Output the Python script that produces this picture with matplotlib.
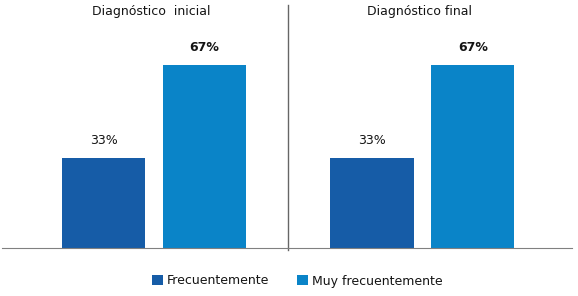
import numpy as np
import matplotlib.pyplot as plt

grupos = ['Diagnóstico  inicial', 'Diagnóstico final']
series = ['Frecuentemente', 'Muy frecuentemente']
frecuente = [33, 33]
muy_frecuente = [67, 67]
etiquetas_f = ['33%', '33%']
etiquetas_m = ['67%', '67%']

c_oscuro = '#165ca7'
c_claro = '#0a84c8'
c_texto = '#141414'

fig = plt.figure(figsize=(5.78, 2.96), dpi=100)
ax = fig.add_axes([0.0035, 1 - 248/296, 0.986, 243/296])

x = np.arange(len(grupos))
ancho = 0.31
sep = 0.188
b1 = ax.bar(x - sep, frecuente, ancho, color=c_oscuro, label=series[0])
b2 = ax.bar(x + sep, muy_frecuente, ancho, color=c_claro, label=series[1])

for barras, etiq, peso in [(b1, etiquetas_f, 'normal'), (b2, etiquetas_m, 'bold')]:
    for b, t in zip(barras, etiq):
        ax.text(b.get_x() + b.get_width()/2, b.get_height() + 4, t,
                ha='center', va='bottom', fontsize=9, color=c_texto, fontweight=peso)

for xi, g in zip(x, grupos):
    ax.text(xi - 0.01, 86.5, g, ha='center', va='center', fontsize=9, color=c_texto)

ax.set_xlim(-0.566, 1.557)
ax.set_ylim(0, 89)
ax.axvline(0.5, ymin=-0.01, ymax=1, color='#666666', lw=1, clip_on=False)

for s in ['top', 'right', 'left']:
    ax.spines[s].set_visible(False)
ax.spines['bottom'].set_color('#808080')
ax.set_xticks([])
ax.set_yticks([])

fig.legend(handles=[b1, b2], labels=series, loc='center',
           bbox_to_anchor=(0.5 + 8/578, 1 - 281/296),
           ncol=2, frameon=False, fontsize=9, handlelength=0.9, handleheight=0.9,
           handletextpad=0.3, columnspacing=2.2, labelcolor=c_texto)

fig.savefig('out.png', dpi=100)
